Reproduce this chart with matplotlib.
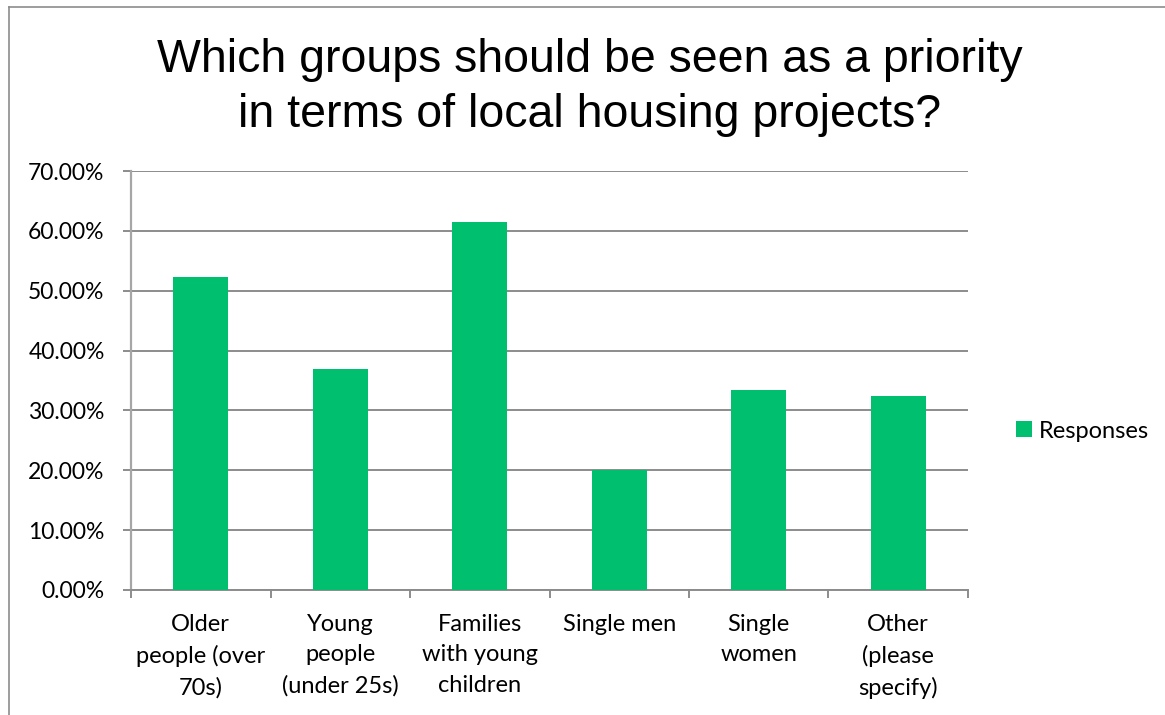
import matplotlib
matplotlib.use("Agg")
import matplotlib.pyplot as plt
from matplotlib.lines import Line2D
from matplotlib.patches import Patch
import numpy as np

# Survey results
categories = ["Older\npeople (over\n70s)", "Young\npeople\n(under 25s)",
              "Families\nwith young\nchildren", "Single men",
              "Single\nwomen", "Other\n(please\nspecify)"]
responses = [52.33, 37.00, 61.45, 20.00, 33.33, 32.33]
yticks = [0, 10, 20, 30, 40, 50, 60, 70]
title = "Which groups should be seen as a priority\nin terms of local housing projects?"

bar_color = "#00BF6F"
grid_color = "#8c8c8c"
axis_color = "#a6a6a6"
label_font = ["Lato", "DejaVu Sans"]

fig = plt.figure(figsize=(11.65, 7.15), dpi=100, facecolor="white")
ax = fig.add_axes([131 / 1165, 1 - 590 / 715, (968 - 131) / 1165, (590 - 171) / 715])

x = np.arange(len(categories))
ax.bar(x, responses, width=0.395, color=bar_color, zorder=3, label="Responses")

ax.set_xlim(-0.5, len(categories) - 0.5)
ax.set_ylim(0, 70)
ax.set_yticks(yticks)
ax.set_yticklabels([f"{v:.2f}%" for v in yticks], family=label_font, fontsize=16.5)
ax.yaxis.grid(True, color=grid_color, linewidth=1.4, zorder=0)

# category boundaries carry the x ticks
ax.set_xticks(np.arange(len(categories) + 1) - 0.5)
ax.set_xticklabels([])
ax.set_xticks(x, minor=True)
ax.set_xticklabels(categories, minor=True, family=label_font, fontsize=17,
                   linespacing=1.56, va="top")
ax.tick_params(axis="x", which="minor", length=0, pad=17)
ax.tick_params(axis="x", which="major", direction="out", length=6, color=grid_color, width=1.4)
ax.tick_params(axis="y", direction="out", length=6, color=grid_color, width=1.4, pad=13)

for side in ["top", "right"]:
    ax.spines[side].set_visible(False)
ax.spines["left"].set_color(axis_color)
ax.spines["left"].set_linewidth(1.6)
ax.spines["bottom"].set_color(grid_color)
ax.spines["bottom"].set_linewidth(1.4)

fig.text(590 / 1165, 1 - 127 / 715, title, ha="center", va="baseline",
         family=["Liberation Sans", "DejaVu Sans"], fontsize=33.5, linespacing=1.32)

handle = Patch(facecolor=bar_color, edgecolor="none")
fig.legend([handle], ["Responses"], loc="center left",
           bbox_to_anchor=(995 / 1165, 1 - 431 / 715), frameon=False,
           prop={"family": label_font, "size": 17},
           handlelength=0.65, handleheight=0.65, handletextpad=0.3)

# chart frame
fig.add_artist(Line2D([9 / 1165, 9 / 1165], [0, 1 - 7 / 715], transform=fig.transFigure,
                      color="#8c8c8c", linewidth=1.2))
fig.add_artist(Line2D([9 / 1165, 1], [1 - 7 / 715, 1 - 7 / 715], transform=fig.transFigure,
                      color="#8c8c8c", linewidth=1.2))

fig.savefig("out.png", dpi=100, facecolor="white")
